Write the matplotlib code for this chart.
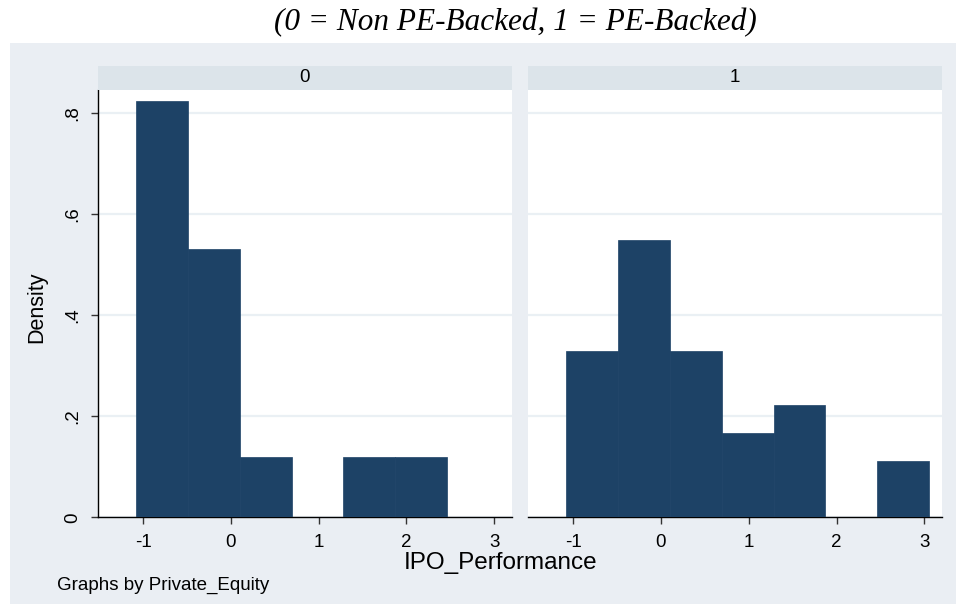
import matplotlib
matplotlib.use('Agg')
import matplotlib.pyplot as plt
from matplotlib.patches import Rectangle

# histogram of IPO_Performance by Private_Equity group (density scale)
bin_edges = [-1.077, -0.487, 0.103, 0.693, 1.283, 1.873, 2.463, 3.053]
density_0 = [0.824, 0.531, 0.119, 0.0, 0.119, 0.119, 0.0]
density_1 = [0.329, 0.549, 0.329, 0.166, 0.222, 0.0, 0.111]
group_labels = ['0', '1']
x_ticks = [-1, 0, 1, 2, 3]
y_ticks = [0, 0.2, 0.4, 0.6, 0.8]
y_ticklabels = ['0', '.2', '.4', '.6', '.8']

bar_color = '#1d4266'
outer_bg = '#eaeef3'
strip_bg = '#dce4ea'
grid_color = '#eaf0f4'
sans = 'Liberation Sans'

W, H = 956, 604
fig = plt.figure(figsize=(W / 100, H / 100), dpi=100)
fig.patch.set_facecolor('white')

# graph region background
fig.patches.append(Rectangle((10 / W, 0), 946 / W, (H - 43) / H,
                             transform=fig.transFigure, facecolor=outer_bg,
                             edgecolor='none', zorder=-5))

def px_box(x0, x1, y0, y1):
    return [x0 / W, (H - y1) / H, (x1 - x0) / W, (y1 - y0) / H]

panels = [(98.3, 511.7), (528.3, 942.0)]
plot_top, plot_bot = 90.0, 517.3
strip_top = 66.0

widths = [bin_edges[i + 1] - bin_edges[i] for i in range(len(bin_edges) - 1)]

for k, (dens, (x0, x1)) in enumerate(zip([density_0, density_1], panels)):
    ax = fig.add_axes(px_box(x0, x1, plot_top, plot_bot))
    ax.set_facecolor('white')
    ax.set_xlim(-1.51, 3.2)
    ax.set_ylim(0, 0.846)
    ax.set_yticks(y_ticks)
    ax.grid(axis='y', color=grid_color, lw=1.6)
    ax.set_axisbelow(True)
    ax.bar(bin_edges[:-1], dens, width=widths, align='edge',
           color=bar_color, edgecolor=bar_color, linewidth=0.5, zorder=3)

    for s in ['top', 'right']:
        ax.spines[s].set_visible(False)
    ax.spines['bottom'].set_color('black')
    ax.spines['bottom'].set_linewidth(1.0)
    ax.set_xticks(x_ticks)
    ax.set_xticklabels([str(t) for t in x_ticks], fontfamily=sans, fontsize=13.5)
    ax.tick_params(axis='x', length=5, width=1, color='#333333', pad=7)

    if k == 0:
        ax.spines['left'].set_color('black')
        ax.spines['left'].set_linewidth(1.0)
        ax.set_yticklabels(y_ticklabels, fontfamily=sans, fontsize=13.5,
                           rotation=90, va='center')
        ax.tick_params(axis='y', length=5, width=1, color='#333333', pad=7)
    else:
        ax.spines['left'].set_visible(False)
        ax.tick_params(axis='y', left=False, labelleft=False)

    # panel strip with group value
    sax = fig.add_axes(px_box(x0, x1, strip_top, plot_top))
    sax.set_facecolor(strip_bg)
    sax.set_xticks([])
    sax.set_yticks([])
    for s in sax.spines.values():
        s.set_visible(False)
    sax.text(0.5, 0.5, group_labels[k], ha='center', va='center',
             fontfamily=sans, fontsize=13.5, transform=sax.transAxes)

fig.text(501 / W, 1 - 563 / H, 'IPO_Performance', ha='center', va='center',
         fontfamily=sans, fontsize=17.5)
fig.text(37 / W, 1 - 307 / H, 'Density', ha='center', va='center',
         rotation=90, fontfamily=sans, fontsize=15.5)
fig.text(57 / W, 1 - 585 / H, 'Graphs by Private_Equity', ha='left',
         va='center', fontfamily=sans, fontsize=13.5)
fig.text(515 / W, 1 - 23 / H, '(0 = Non PE-Backed, 1 = PE-Backed)',
         ha='center', va='center', fontfamily='Liberation Serif',
         style='italic', fontsize=22.5)

fig.savefig('out.png', dpi=100, facecolor=fig.get_facecolor())
